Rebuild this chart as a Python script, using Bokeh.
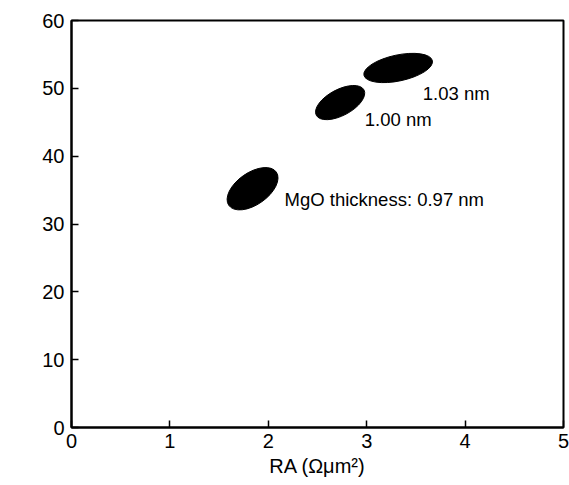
import math
from bokeh.plotting import figure
from bokeh.models import Range1d, Label, FixedTicker, ColumnDataSource
from bokeh.core.properties import value
from bokeh.embed import file_html
from bokeh.resources import INLINE

# Data
thickness_labels = ["MgO thickness: 0.97 nm", "1.00 nm", "1.03 nm"]
ra_values = [1.84, 2.73, 3.32]          # RA (Ohm um^2), ellipse centres
mr_values = [35.2, 47.9, 53.0]          # MR ratio (%), ellipse centres
label_ra = [2.165, 2.98, 3.57]          # annotation anchor (RA)
label_mr = [33.6, 45.4, 49.2]           # annotation anchor (MR)
x_ticks = [0, 1, 2, 3, 4, 5]
y_ticks = [0, 10, 20, 30, 40, 50, 60]

# Styles (screen-pixel ellipse shapes)
ell_major = [58, 54, 70]
ell_minor = [32, 26, 26]
ell_angle_deg = [35, 28, 12]

FONT = "Liberation Sans"
FS_TICK = "20px"
FS_TITLE = "20px"
FS_ANN = "18.5px"

p = figure(frame_width=492, frame_height=407, output_backend="svg", toolbar_location=None,
           x_range=Range1d(0, 5), y_range=Range1d(0, 60),
           min_border_left=71, min_border_right=6, min_border_top=20, min_border_bottom=58,
           background_fill_color="white", border_fill_color="white")

p.xgrid.visible = False
p.ygrid.visible = False
p.outline_line_color = "black"
p.outline_line_width = 2
p.outline_line_alpha = 1.0

for ax in (p.xaxis[0], p.yaxis[0]):
    ax.axis_line_width = 2
    ax.axis_line_color = "black"
    ax.major_tick_in = 7
    ax.major_tick_out = 0
    ax.major_tick_line_width = 1.5
    ax.major_tick_line_color = "black"
    ax.minor_tick_line_color = None
    ax.major_label_text_font = FONT
    ax.major_label_text_font_size = FS_TICK
    ax.major_label_text_color = "black"
    ax.axis_label_text_font = FONT
    ax.axis_label_text_font_size = FS_TITLE
    ax.axis_label_text_font_style = "normal"
    ax.axis_label_text_color = "black"

p.xaxis.ticker = FixedTicker(ticks=x_ticks)
p.yaxis.ticker = FixedTicker(ticks=y_ticks)
p.xaxis.major_label_standoff = 6
p.yaxis.major_label_standoff = 7
p.xaxis.axis_label = "RA (Ωμm²)"
p.xaxis.axis_label_standoff = 4

# y-axis title placed manually (it sits above the frame centre in the reference)
ytitle = Label(x=-0.52, y=35.5, text="MR ratio (%)", angle=math.pi / 2,
               text_align="center", text_baseline="middle",
               text_font=FONT, text_font_size=FS_TITLE, text_color="black")
p.add_layout(ytitle)

src = ColumnDataSource(dict(
    x=ra_values, y=mr_values,
    w=ell_major, h=ell_minor,
    a=[math.radians(d) for d in ell_angle_deg],
))
p.ellipse(x="x", y="y", width="w", height="h", angle="a", source=src,
          width_units="screen", height_units="screen",
          fill_color="black", line_color="black")

lsrc = ColumnDataSource(dict(x=label_ra, y=label_mr, t=thickness_labels))
p.text(x="x", y="y", text="t", source=lsrc, text_align="left", text_baseline="middle",
       text_font=value(FONT), text_font_size=FS_ANN, text_color="black")

open("out.html", "w").write(file_html(p, INLINE))
